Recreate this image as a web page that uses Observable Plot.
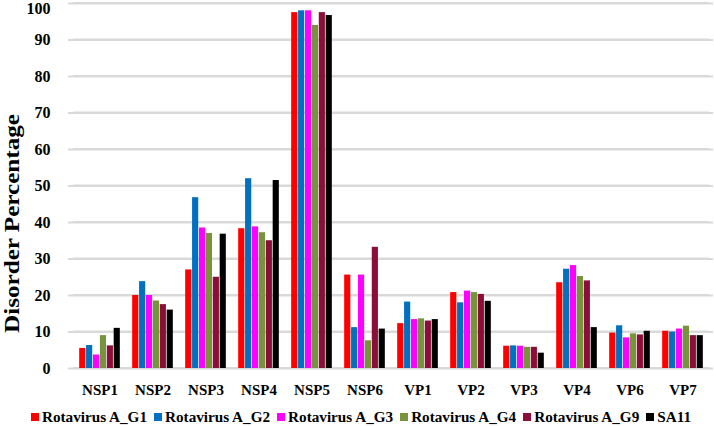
<!DOCTYPE html>
<html>
<head>
<meta charset="utf-8">
<script src="https://cdn.jsdelivr.net/npm/d3@7"></script>
<script src="https://cdn.jsdelivr.net/npm/@observablehq/plot@0.6"></script>
<style>
  body { margin: 0; background: #fff; font-family: "Liberation Serif", "Tinos", "Times New Roman", serif; }
  #legend { display: flex; justify-content: center; gap: 7px; font-weight: bold; font-size: 15.2px; line-height: 16px; margin-top: 17px; margin-left: 8px; color: #000; font-family: "Liberation Serif", "Times New Roman", serif; }
  #legend span.item { display: inline-flex; align-items: center; white-space: nowrap; }
  #legend span.sw { display: inline-block; width: 8px; height: 8px; margin-right: 3px; }
</style>
</head>
<body>
<div id="chart"></div>
<div id="legend"></div>
<script>
const categories = ["NSP1","NSP2","NSP3","NSP4","NSP5","NSP6","VP1","VP2","VP3","VP4","VP6","VP7"];
const seriesNames = ["Rotavirus A_G1","Rotavirus A_G2","Rotavirus A_G3","Rotavirus A_G4","Rotavirus A_G9","SA11"];
const seriesColors = ["#ff0000","#0070c0","#ff00ff","#77933c","#8b0d3a","#000000"];
const g1   = [5.5, 20.0, 27.0, 38.3, 97.5, 25.6, 12.3, 20.8, 6.1, 23.5, 9.7, 10.2];
const g2   = [6.3, 23.8, 46.8, 52.0, 98.0, 11.2, 18.2, 18.0, 6.2, 27.2, 11.7, 10.0];
const g3   = [3.7, 20.0, 38.5, 38.8, 98.0, 25.6, 13.4, 21.2, 6.1, 28.2, 8.4, 10.8];
const g4   = [9.0, 18.5, 37.0, 37.2, 94.0, 7.6, 13.6, 20.8, 5.8, 25.2, 9.5, 11.6];
const g9   = [6.2, 17.5, 25.0, 35.0, 97.5, 33.2, 13.0, 20.3, 5.8, 24.0, 9.2, 9.0];
const sa11 = [11.0, 16.0, 36.8, 51.5, 96.7, 10.8, 13.4, 18.4, 4.2, 11.2, 10.2, 9.0];
const yTicks = [0,10,20,30,40,50,60,70,80,90,100];
const yLabel = "Disorder Percentage";

const seriesValues = [g1, g2, g3, g4, g9, sa11];

const W = 714, ML = 68, MR = 1;
const band = (W - ML - MR) / categories.length;
const barW = 6.9;
const outer = (band - barW * seriesNames.length) / 2;

const font = "'Liberation Serif', Tinos, 'Times New Roman', serif";

const barMarks = seriesNames.map((s, j) => {
  const rows = categories.map((c, i) => ({category: c, series: s, value: seriesValues[j][i]}));
  const left = outer + j * barW;
  return Plot.barY(rows, {
    x: "category", y: "value", fill: seriesColors[j],
    insetLeft: left, insetRight: band - left - barW
  });
});

// grid segments: one thin band-wide bar per category and tick
const gridHalf = 0.27;
const gridRows = [];
categories.forEach(c => yTicks.forEach(t => gridRows.push({category: c, tick: t})));

const topTick = yTicks[yTicks.length - 1];
const chart = Plot.plot({
  width: W,
  height: 392,
  marginLeft: ML,
  marginRight: MR,
  marginTop: 3,
  marginBottom: 24,
  style: {fontFamily: font, fontWeight: "bold", fontSize: "15px", color: "#000", background: "#fff", overflow: "visible"},
  x: {domain: categories, padding: 0, label: null},
  y: {domain: [0, 100], label: null},
  marks: [
    Plot.barY(gridRows, {x: "category", y1: d => d.tick - gridHalf, y2: d => d.tick + gridHalf, fill: "#d9d9d9"}),
    Plot.ruleY(yTicks, {stroke: "#d9d9d9", strokeOpacity: 1, strokeWidth: 2}),
    Plot.axisY(yTicks.filter(t => t !== topTick), {tickSize: 0, tickPadding: 18, fontSize: 16, fontFamily: font, label: null}),
    Plot.axisY([topTick], {tickSize: 0, tickPadding: 18, fontSize: 16, fontFamily: font, label: null, dy: 5}),
    Plot.axisX({tickSize: 0, tickPadding: 16, fontSize: 15, fontFamily: font, label: null}),
    ...barMarks,
    Plot.text([yLabel], {frameAnchor: "left", rotate: -90, dx: -56, dy: 147, textAnchor: "start", fontSize: 21, fontWeight: "bold", fontFamily: font})
  ]
});
d3.select(chart).selectAll("text").filter(function() { return this.textContent === yLabel; })
  .attr("textLength", 219).attr("lengthAdjust", "spacingAndGlyphs");
document.getElementById("chart").appendChild(chart);

const legend = document.getElementById("legend");
seriesNames.forEach((s, j) => {
  const it = document.createElement("span");
  it.className = "item";
  const sw = document.createElement("span");
  sw.className = "sw";
  sw.style.background = seriesColors[j];
  it.appendChild(sw);
  it.appendChild(document.createTextNode(s));
  legend.appendChild(it);
});
</script>
</body>
</html>
